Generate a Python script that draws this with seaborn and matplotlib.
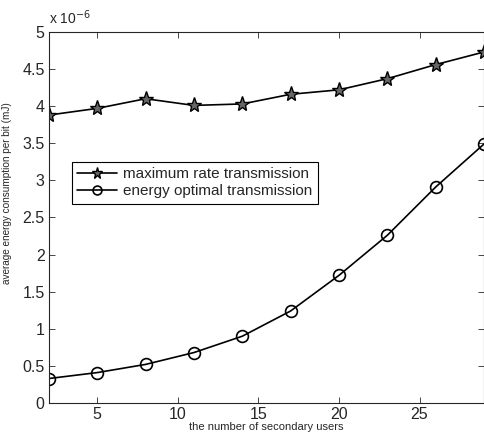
import pandas as pd
import matplotlib
matplotlib.use('Agg')
import matplotlib.pyplot as plt
import seaborn as sns

# data (values in units of 1e-6 mJ)
users = [2, 5, 8, 11, 14, 17, 20, 23, 26, 29]
max_rate = [3.88, 3.97, 4.10, 4.01, 4.03, 4.16, 4.22, 4.37, 4.56, 4.73]
energy_opt = [0.33, 0.41, 0.52, 0.68, 0.90, 1.24, 1.72, 2.26, 2.91, 3.49]
series_names = ['maximum rate transmission', 'energy optimal transmission']
x_ticks = [5, 10, 15, 20, 25]
y_ticks = [0, 0.5, 1, 1.5, 2, 2.5, 3, 3.5, 4, 4.5, 5]

sns.set_style('ticks')
plt.rcParams['font.family'] = ['Liberation Sans', 'DejaVu Sans']

df = pd.DataFrame({
    'users': users * 2,
    'value': max_rate + energy_opt,
    'series': [series_names[0]] * len(users) + [series_names[1]] * len(users),
})

fig = plt.figure(figsize=(4.84, 4.34), dpi=100)
ax = fig.add_axes([0.101, 0.0714, 0.899, 0.855])

sns.lineplot(data=df[df['series'] == series_names[0]], x='users', y='value',
             color='black', linewidth=1.2, marker='*', markersize=11,
             markerfacecolor='#666666', markeredgecolor='black', markeredgewidth=1.0,
             label=series_names[0], ax=ax)
sns.lineplot(data=df[df['series'] == series_names[1]], x='users', y='value',
             color='black', linewidth=1.2, marker='o', markersize=8.5,
             markerfacecolor='none', markeredgecolor='black', markeredgewidth=1.2,
             label=series_names[1], ax=ax)

ax.set_xlim(2, 29)
ax.set_ylim(0, 5)
ax.set_xticks(x_ticks)
ax.set_yticks(y_ticks)
ax.set_yticklabels(['0', '0.5', '1', '1.5', '2', '2.5', '3', '3.5', '4', '4.5', '5'])
ax.tick_params(direction='in', top=True, right=True, labelsize=11.5, length=4, width=0.6, pad=3)
for s in ax.spines.values():
    s.set_linewidth(0.8)
    s.set_visible(True)

ax.set_xlabel('the number of secondary users', fontsize=8, labelpad=0)
ax.set_ylabel('average energy consumption per bit (mJ)', fontsize=7.2, labelpad=2)
ax.yaxis.set_label_coords(-0.085, 0.565)
ax.text(0.0, 1.012, r'x 10$^{-6}$', transform=ax.transAxes, fontsize=10, va='bottom', ha='left')

leg = ax.legend(loc='upper left', bbox_to_anchor=(0.053, 0.650), borderaxespad=0,
                fontsize=11, frameon=True, fancybox=False, edgecolor='black',
                framealpha=1, labelspacing=0.2, handlelength=2.6, handletextpad=0.4,
                borderpad=0.35, markerscale=0.75)
leg.get_frame().set_linewidth(0.8)

fig.savefig('out.png', dpi=100)
